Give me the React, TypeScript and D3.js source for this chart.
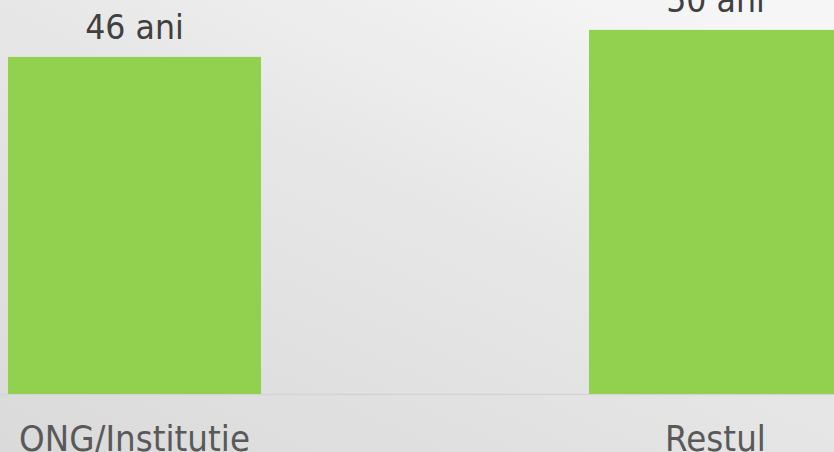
import React from "react";
import * as d3 from "d3";

const categories = ["ONG/Instituție", "Restul"];
const values = [46.2, 49.9];
const valueSuffix = " ani";

const W = 834;
const H = 452;

export default function App() {
  const x = d3
    .scaleBand<string>()
    .domain(categories)
    .range([-156, 1006])
    .paddingInner(0.5645)
    .paddingOuter(0.28225);
  const y = d3.scaleLinear().domain([0, 54]).range([394, 0]);
  const fmt = d3.format(".0f");
  const font = "'DejaVu Sans', Verdana, sans-serif";

  return (
    <div style={{ position: "fixed", left: 0, top: 0, width: W, height: H }}>
      <svg width={W} height={H} style={{ display: "block" }}>
        <defs>
          <linearGradient id="bg" x1="0" y1="1" x2="0.85" y2="0" gradientUnits="objectBoundingBox">
            <stop offset="0" stopColor="#dadada" />
            <stop offset="0.55" stopColor="#e6e6e6" />
            <stop offset="1" stopColor="#f6f6f6" />
          </linearGradient>
        </defs>
        <rect x={0} y={0} width={W} height={H} fill="url(#bg)" />
        <line x1={0} x2={W} y1={394.5} y2={394.5} stroke="#d4d4d4" strokeWidth={1.5} />
        {categories.map((c, i) => {
          const cx = (x(c) as number) + x.bandwidth() / 2;
          const ly = y(values[i]) - 17.5;
          return (
            <g key={c}>
              <rect
                x={x(c)}
                y={y(values[i])}
                width={x.bandwidth()}
                height={y(0) - y(values[i])}
                fill="#92d050"
              />
              <g transform={`translate(${cx},${ly}) scale(0.99,1.05)`}>
                <text
                  x={0}
                  y={0}
                  textAnchor="middle"
                  fontFamily={font}
                  fontSize={32}
                  fill="#404040"
                >
                  {fmt(values[i]) + valueSuffix}
                </text>
              </g>
              <g transform={`translate(${cx},451) scale(1.02,1.09)`}>
                <text
                  x={0}
                  y={0}
                  textAnchor="middle"
                  fontFamily={font}
                  fontSize={32}
                  fill="#595959"
                >
                  {c}
                </text>
              </g>
            </g>
          );
        })}
      </svg>
    </div>
  );
}
